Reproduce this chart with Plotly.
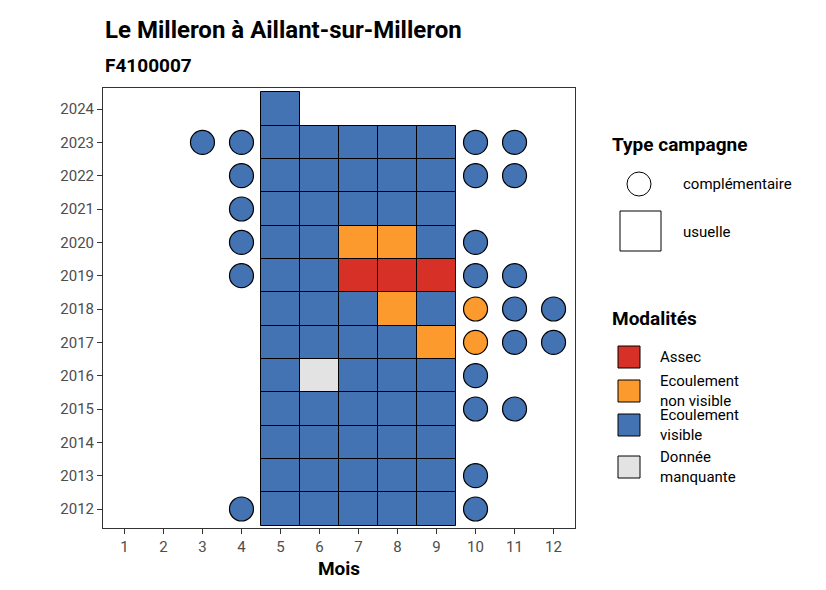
import plotly.graph_objects as go

years = list(range(2012, 2025))
months = list(range(1, 13))

# usual campaign (tiles): (year, month, modality)
tile_year = [2024,
             2023, 2023, 2023, 2023, 2023,
             2022, 2022, 2022, 2022, 2022,
             2021, 2021, 2021, 2021, 2021,
             2020, 2020, 2020, 2020, 2020,
             2019, 2019, 2019, 2019, 2019,
             2018, 2018, 2018, 2018, 2018,
             2017, 2017, 2017, 2017, 2017,
             2016, 2016, 2016, 2016, 2016,
             2015, 2015, 2015, 2015, 2015,
             2014, 2014, 2014, 2014, 2014,
             2013, 2013, 2013, 2013, 2013,
             2012, 2012, 2012, 2012, 2012]
tile_month = [5] + [5, 6, 7, 8, 9] * 12
tile_mod = (['V']
            + ['V'] * 5 + ['V'] * 5 + ['V'] * 5
            + ['V', 'V', 'N', 'N', 'V']
            + ['V', 'V', 'A', 'A', 'A']
            + ['V', 'V', 'V', 'N', 'V']
            + ['V', 'V', 'V', 'V', 'N']
            + ['V', 'M', 'V', 'V', 'V']
            + ['V'] * 5 + ['V'] * 5 + ['V'] * 5 + ['V'] * 5)

# complementary campaign (circles)
circ_year = [2023, 2023, 2023, 2023, 2022, 2022, 2022, 2021, 2020, 2020,
             2019, 2019, 2019, 2018, 2018, 2018, 2017, 2017, 2017,
             2016, 2015, 2015, 2013, 2012, 2012]
circ_month = [3, 4, 10, 11, 4, 10, 11, 4, 4, 10,
              4, 10, 11, 10, 11, 12, 10, 11, 12,
              10, 10, 11, 10, 4, 10]
circ_mod = ['V', 'V', 'V', 'V', 'V', 'V', 'V', 'V', 'V', 'V',
            'V', 'V', 'V', 'N', 'V', 'V', 'N', 'V', 'V',
            'V', 'V', 'V', 'V', 'V', 'V']

colors = {'A': '#d73027', 'N': '#fd9a2e', 'V': '#4473b4', 'M': '#e3e3e3'}
labels = {'A': 'Assec', 'N': 'Ecoulement<br>non visible', 'V': 'Ecoulement<br>visible',
          'M': 'Donnée<br>manquante'}

fig = go.Figure()
fig.add_trace(go.Bar(
    x=tile_month, y=[1] * len(tile_month), base=[y - 0.5 for y in tile_year],
    width=1, marker=dict(color=[colors[m] for m in tile_mod],
                         line=dict(color='black', width=1)),
    showlegend=False, hoverinfo='skip'))
fig.add_trace(go.Scatter(
    x=circ_month, y=circ_year, mode='markers',
    marker=dict(size=24, color=[colors[m] for m in circ_mod],
                line=dict(color='black', width=1.2)),
    showlegend=False))

W, H = 826, 590
L, R, T, B = 95, 567, 80, 520


def px(x):
    return (x - L) / (R - L)


def py(y):
    return (B - y) / (B - T)


font = 'Roboto, Liberation Sans, Arial'
ann = []
shapes = []
ann.append(dict(x=px(95), y=py(22), text='<b>Le Milleron à Aillant-sur-Milleron</b>', font=dict(size=24)))
ann.append(dict(x=px(95), y=py(58), text='<b>F4100007</b>', font=dict(size=19)))
ann.append(dict(x=px(602), y=py(136), text='<b>Type campagne</b>', font=dict(size=19)))
shapes.append(dict(type='circle', x0=px(619), x1=px(643), y0=py(164), y1=py(188)))
ann.append(dict(x=px(673), y=py(176), text='complémentaire', font=dict(size=15)))
shapes.append(dict(type='rect', x0=px(612), x1=px(653), y0=py(203), y1=py(243)))
ann.append(dict(x=px(673), y=py(224), text='usuelle', font=dict(size=15)))
ann.append(dict(x=px(602), y=py(310), text='<b>Modalités</b>', font=dict(size=19)))
for k, yy in zip(['A', 'N', 'V', 'M'], [349, 383, 417, 459]):
    shapes.append(dict(type='rect', x0=px(610), x1=px(632), y0=py(yy - 11), y1=py(yy + 11),
                       fillcolor=colors[k]))
    txt = labels[k].replace('<br>', '<br><span style="line-height:0.9"></span>')
    ann.append(dict(x=px(650), y=py(yy), text=labels[k], font=dict(size=15), align='left'))
for a in ann:
    a.update(xref='paper', yref='paper', xanchor='left', yanchor='middle', showarrow=False)
for s in shapes:
    s.update(xref='paper', yref='paper', line=dict(color='black', width=1))
    s.setdefault('fillcolor', 'white')

fig.update_layout(
    width=W, height=H, margin=dict(l=L, r=W - R, t=T, b=H - B, autoexpand=False),
    plot_bgcolor='white', paper_bgcolor='white', bargap=0,
    font=dict(family=font, color='black'),
    annotations=ann, shapes=shapes,
    xaxis=dict(range=[0.45, 12.55], tickvals=months, showline=True, mirror=True,
               linecolor='#333', ticks='outside', ticklen=5, tickcolor='#333', automargin=False,
               showgrid=False, zeroline=False, tickfont=dict(size=15, color='#4d4d4d'),
               title=dict(text='<b>Mois</b>', font=dict(size=19), standoff=6)),
    yaxis=dict(range=[2011.43, 2024.63], tickvals=years, showline=True, mirror=True,
               linecolor='#333', ticks='outside', ticklen=5, tickcolor='#333', automargin=False,
               showgrid=False, zeroline=False, tickfont=dict(size=15, color='#4d4d4d')),
)
fig.write_html("out.html")
